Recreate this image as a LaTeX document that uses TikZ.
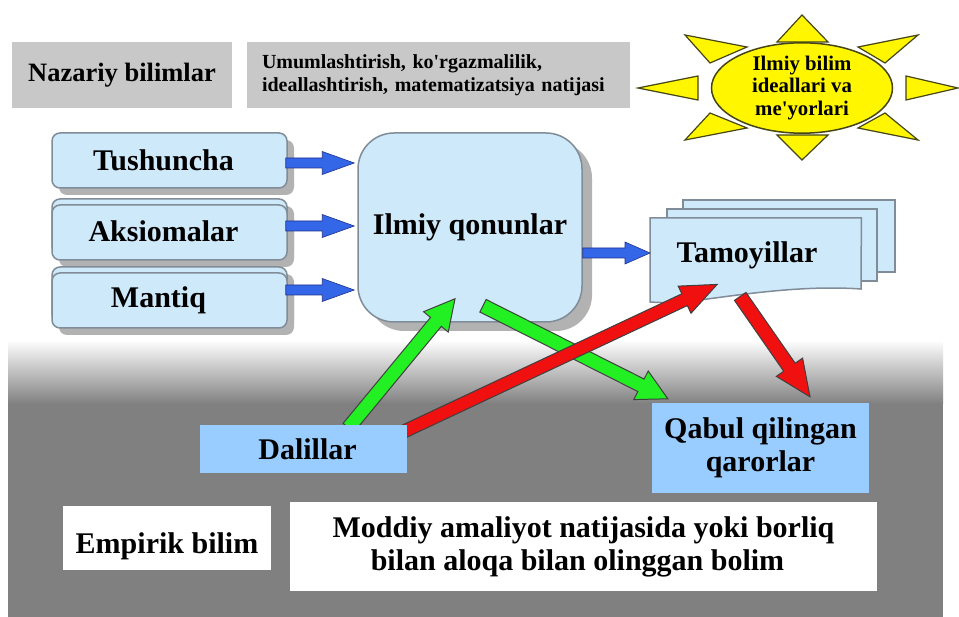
\documentclass[tikz,border=0pt]{standalone}
\usepackage{fontspec}
\newfontfamily\uzf{Liberation Serif}
\usetikzlibrary{calc,shadows,shapes.geometric}
\pgfdeclarelayer{front}
\pgfsetlayers{main,front}
\definecolor{lblue}{RGB}{206,233,250}
\definecolor{bord}{RGB}{128,140,152}
\definecolor{arrblue}{RGB}{52,102,232}
\definecolor{arrblueline}{RGB}{30,50,140}
\definecolor{dalblue}{RGB}{153,204,255}
\definecolor{boxgray}{RGB}{200,200,200}
\definecolor{bggray}{RGB}{128,128,128}
\definecolor{agreen}{RGB}{34,240,34}
\definecolor{ared}{RGB}{240,16,16}
\definecolor{sunyel}{RGB}{255,246,0}
\definecolor{sunline}{RGB}{70,70,20}
\newcommand\blkarrow[6]{%
  \path[#1] let \p1=(#2), \p2=(#3),
    \n1={atan2((\y2)-(\y1),(\x2)-(\x1))}, \n2={veclen((\x2)-(\x1),(\y2)-(\y1))} in
    ($(\p1)+(\n1+90:#4)$) -- ($(\p1)+(\n1:\n2-#6)+(\n1+90:#4)$)
    -- ($(\p1)+(\n1:\n2-#6)+(\n1+90:#5)$) -- (\p2)
    -- ($(\p1)+(\n1:\n2-#6)+(\n1-90:#5)$) -- ($(\p1)+(\n1:\n2-#6)+(\n1-90:#4)$)
    -- ($(\p1)+(\n1-90:#4)$) -- cycle;}
\tikzset{
  bigfont/.style={font=\uzf\bfseries\fontsize{30}{33}\selectfont},
  botfont/.style={font=\uzf\bfseries\fontsize{30}{33}\selectfont},
  midfont/.style={font=\uzf\bfseries\fontsize{20}{23}\selectfont},
  sunfont/.style={font=\uzf\bfseries\fontsize{20.8}{22.5}\selectfont},
  lbox/.style={draw=bord, line width=1.5pt, fill=lblue, rounded corners=8pt,
    minimum width=235pt, minimum height=55pt, inner sep=0pt, bigfont,
    general shadow={fill=black!30, draw=none, shadow xshift=7pt, shadow yshift=-7pt}},
  bigbox/.style={draw=bord, line width=1.5pt, fill=lblue, rounded corners=36pt,
    minimum width=224pt, minimum height=189pt, inner sep=0pt, bigfont,
    general shadow={fill=black!30, draw=none, shadow xshift=10pt, shadow yshift=-9pt}},
  card/.style={draw=bord, line width=1.5pt, fill=lblue, line join=miter},
  graybox/.style={fill=boxgray, inner sep=0pt},
  dalbox/.style={fill=dalblue, inner sep=0pt, botfont},
  whitebox/.style={fill=white, inner sep=0pt, botfont, align=center},
  sunray/.style={fill=sunyel, draw=sunline, line width=1.2pt, line join=miter},
  sunnode/.style={ellipse, draw=sunline, fill=sunyel, line width=1.5pt,
    minimum width=181pt, minimum height=81pt, inner sep=0pt, align=center, sunfont},
  bluearr/.style={fill=arrblue, draw=arrblueline, line width=0.6pt, line join=miter},
  greenarr/.style={fill=agreen, draw=black!75, line width=1pt, line join=miter},
  redarr/.style={fill=ared, draw=black!75, line width=1pt, line join=miter},
}
\begin{document}
\begin{tikzpicture}[x=1pt,y=-1pt]
\useasboundingbox (0,0) rectangle (959,617);
\fill[white] (0,0) rectangle (959,617);
% background of the empirical part
\shade[top color=white, bottom color=bggray] (8,340) rectangle (943,404);
\fill[bggray] (8,403) rectangle (943,617);

% header boxes
\node[graybox, font=\uzf\bfseries\fontsize{26.5}{29}\selectfont,
  minimum width=220pt, minimum height=66pt] (naz) at (122,75) {Nazariy bilimlar};
\node[graybox, midfont, minimum width=383pt, minimum height=66pt,
  text width=353pt, align=left] (umu) at (438.5,75)
  {Umumlashtirish, ko'rgazmalilik,\\ideallashtirish, matematizatsiya natijasi};

% sun
\draw[sunray] (802,15) -- (777,42) -- (828,42) -- cycle;
\draw[sunray] (802,160) -- (777,135) -- (828,135) -- cycle;
\draw[sunray] (638,88) -- (698,76) -- (698,100) -- cycle;
\draw[sunray] (958,88) -- (906,76) -- (906,100) -- cycle;
\draw[sunray] (685,35) -- (710,63) -- (747,47) -- cycle;
\draw[sunray] (918,35) -- (858,47) -- (885,63) -- cycle;
\draw[sunray] (685,140) -- (710,113) -- (747,128) -- cycle;
\draw[sunray] (918,140) -- (885,113) -- (858,128) -- cycle;
\node[sunnode] (sun) at (802,88) {Ilmiy bilim\\ideallari va\\me'yorlari};

% left boxes
\node[lbox] (tush) at (169.5,160.5) {\hspace*{-12pt}Tushuncha};
\node[lbox] (aksb) at (169.5,226.5) {};
\node[lbox] (aks) at (169.5,232.5) {\hspace*{-12pt}\raisebox{3pt}{Aksiomalar}};
\node[lbox] (manb) at (169.5,294.5) {};
\node[lbox] (man) at (169.5,300.5) {\hspace*{-22pt}\raisebox{4pt}{Mantiq}};

% central box
\node[bigbox] (ilm) at (470,227.5) {Ilmiy qonunlar};

% Tamoyillar stack
\draw[card] (683,200) rectangle (895,272);
\draw[card] (667,209) rectangle (877,281);
\node[minimum width=211pt, minimum height=80pt, inner sep=0pt, anchor=north west] (tam) at (650,218) {};
\draw[card] (tam.north west) -- (tam.north east) -- (861,289)
  .. controls (805,285) and (745,294) .. (700,300)
  .. controls (680,303) and (665,303) .. (650,302) -- cycle;
\node[bigfont] (tamt) at (747,255) {Tamoyillar};

% lower boxes
\begin{pgfonlayer}{front}
\node[dalbox, minimum width=207pt, minimum height=48pt] (dal) at (303.5,449) {\hspace*{8pt}Dalillar};
\end{pgfonlayer}
\node[dalbox, align=center, minimum width=217pt, minimum height=90pt] (qab) at (760.5,448) {Qabul qilingan\\qarorlar};
\node[whitebox, minimum width=208pt, minimum height=64pt] (emp) at (167,538) {\raisebox{-15pt}[0pt][0pt]{Empirik bilim}};
\node[whitebox, minimum width=587pt, minimum height=89pt] (mod) at (583.5,546.5)
  {\raisebox{-3pt}{\parbox{560pt}{\centering Moddiy amaliyot natijasida yoki borliq\\bilan aloqa bilan olinggan bolim\hspace*{12pt}}}};

% blue arrows
\coordinate (b1) at ([yshift=-2.5pt]tush.east);
\coordinate (b2) at ([yshift=6.5pt]aks.east);
\coordinate (b3) at ([yshift=10.5pt]man.east);
\blkarrow{bluearr}{[xshift=-2pt]b1}{[xshift=-3pt]ilm.west|-b1}{5pt}{11.5pt}{32pt}
\blkarrow{bluearr}{[xshift=-2pt]b2}{[xshift=-3pt]ilm.west|-b2}{5pt}{11.5pt}{32pt}
\blkarrow{bluearr}{[xshift=-2pt]b3}{[xshift=-3pt]ilm.west|-b3}{5pt}{11.5pt}{32pt}
\coordinate (b4) at ([yshift=-25.5pt]ilm.east);
\blkarrow{bluearr}{b4}{tam.west|-b4}{5pt}{11pt}{25pt}

% green and red arrows
\blkarrow{greenarr}{[xshift=45pt,yshift=-3pt]dal.north}{[xshift=-15pt,yshift=24pt]ilm.south}{7pt}{16pt}{30pt}
\blkarrow{greenarr}{[xshift=13pt,yshift=17pt]ilm.south}{[xshift=16pt,yshift=4pt]qab.north west}{7pt}{16pt}{30pt}
\blkarrow{redarr}{[xshift=-4pt,yshift=-7pt]dal.north east}{[xshift=-38.5pt,yshift=14pt]tam.south}{6.5pt}{15pt}{36pt}
\blkarrow{redarr}{[xshift=-15.5pt,yshift=2pt]tam.south}{[xshift=49.5pt,yshift=6pt]qab.north}{7pt}{16pt}{36pt}
\end{tikzpicture}
\end{document}
